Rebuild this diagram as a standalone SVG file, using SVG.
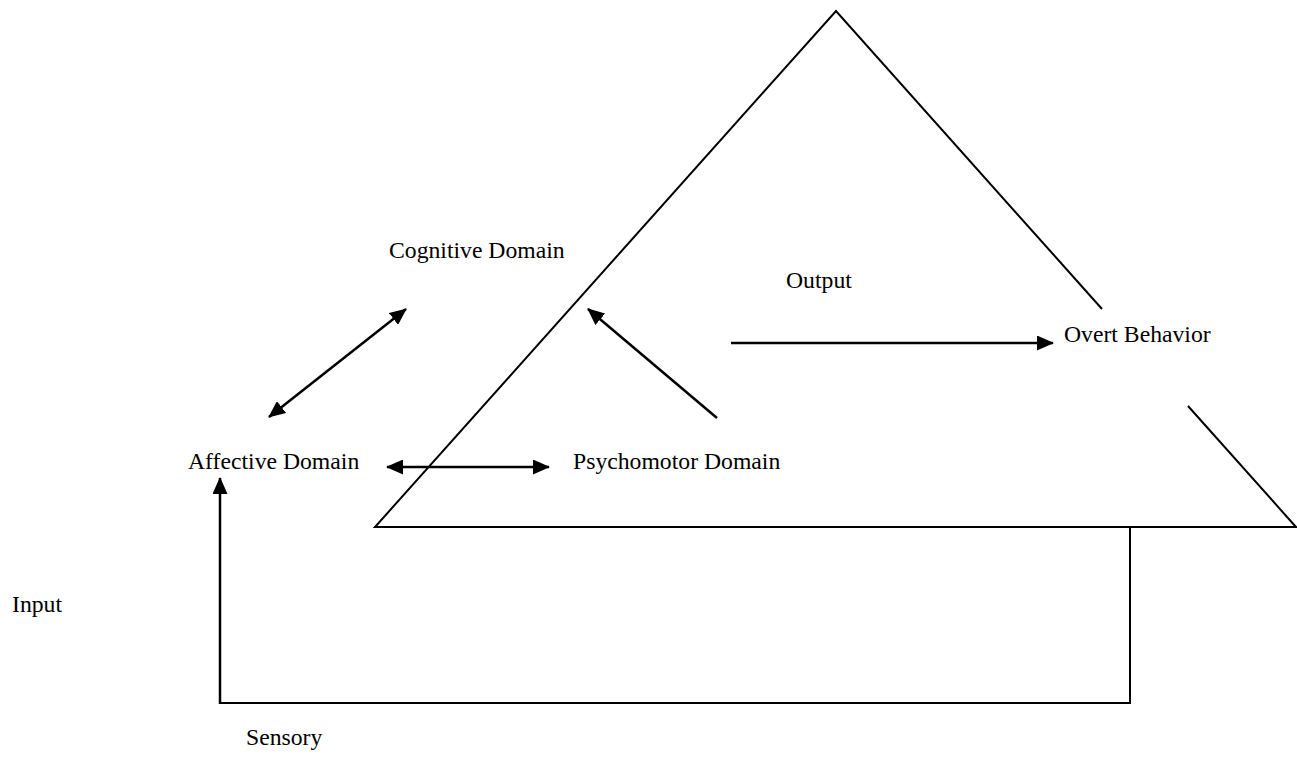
<svg xmlns="http://www.w3.org/2000/svg" width="1297" height="765" viewBox="0 0 1297 765">
<style>
.t{font-family:"Liberation Serif","Times New Roman",serif;font-size:23.7px;fill:#000}
.ln{stroke:#000;stroke-width:2;fill:none}
.ar{stroke:#000;stroke-width:2.5;fill:none}
</style>
<defs>
<marker id="ah" markerWidth="17" markerHeight="15" refX="16" refY="7.5" orient="auto" markerUnits="userSpaceOnUse">
<path d="M0,0 L17,7.5 L0,15 Z" fill="#000"/>
</marker>
<marker id="as" markerWidth="17" markerHeight="15" refX="1" refY="7.5" orient="auto" markerUnits="userSpaceOnUse">
<path d="M17,0 L0,7.5 L17,15 Z" fill="#000"/>
</marker>
</defs>
<rect width="1297" height="765" fill="#fff"/>
<g id="triangle">
<polyline class="ln" points="1102,309 836,11 375,527 1296,527 1188,406"/>
</g>
<g id="connectors">
<line class="ar" x1="269" y1="417" x2="406" y2="309" marker-start="url(#as)" marker-end="url(#ah)"/>
<line class="ar" x1="717" y1="418" x2="588" y2="309" marker-end="url(#ah)"/>
<line class="ar" x1="731" y1="343" x2="1053" y2="343" marker-end="url(#ah)"/>
<line class="ar" x1="387" y1="467" x2="549" y2="467" marker-start="url(#as)" marker-end="url(#ah)"/>
<polyline class="ln" points="1130,527 1130,703 220,703"/>
<line class="ar" x1="220" y1="704" x2="220" y2="478" marker-end="url(#ah)"/>
</g>
<g id="cognitive"><text class="t" x="389" y="258">Cognitive Domain</text></g>
<g id="output"><text class="t" x="786" y="288">Output</text></g>
<g id="overt"><text class="t" x="1064" y="342">Overt Behavior</text></g>
<g id="affective"><text class="t" x="188" y="469">Affective Domain</text></g>
<g id="psychomotor"><text class="t" x="573" y="469">Psychomotor Domain</text></g>
<g id="input"><text class="t" x="12" y="612">Input</text></g>
<g id="sensory"><text class="t" x="246" y="745">Sensory</text></g>
</svg>
